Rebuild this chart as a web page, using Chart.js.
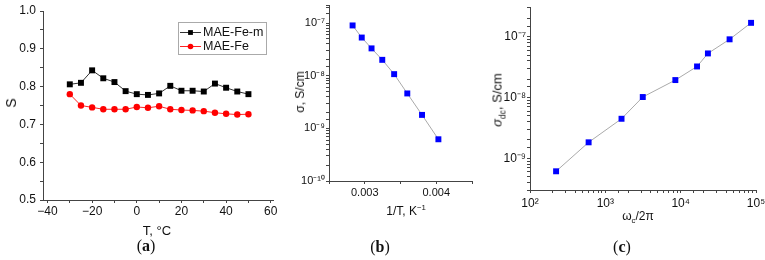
<!DOCTYPE html>
<html>
<head>
<meta charset="utf-8">
<script src="https://cdn.jsdelivr.net/npm/chart.js@4"></script>
<style>
  body { margin: 0; background: #fff; }
  #wrap { position: relative; width: 765px; height: 260px; overflow: hidden; font-family: "Liberation Sans", Arial, sans-serif; color: #111; }
  #wrap canvas { position: absolute; left: 0; top: 0; }
  .lbl { position: absolute; transform: translate(-50%, -50%); white-space: nowrap; }
  .rot { transform: translate(-50%, -50%) rotate(-90deg); }
  .cap { font-family: "Liberation Serif", "Times New Roman", serif; font-size: 16px; }
  .cap b { font-weight: bold; }
  sup, sub { font-size: 65%; line-height: 0; }
</style>
</head>
<body>
<div id="wrap">
  <canvas id="chartA" width="765" height="260"></canvas>
  <canvas id="chartB" width="765" height="260"></canvas>
  <canvas id="chartC" width="765" height="260"></canvas>

  <div class="lbl rot" style="left:11px; top:103px; font-size:14px;">S</div>
  <div class="lbl" style="left:157px; top:230px; font-size:13px;">T, °C</div>
  <div class="lbl cap" style="left:146px; top:246px;">(<b>a</b>)</div>

  <div class="lbl rot" style="left:300px; top:92px; font-size:12px;">σ, S/cm</div>
  <div class="lbl" style="left:406px; top:211px; font-size:12px;">1/T, K<sup>−1</sup></div>
  <div class="lbl cap" style="left:380px; top:247px;">(<b>b</b>)</div>

  <div class="lbl rot" style="left:497px; top:100px; font-size:13px;"><i>σ</i><sub>dc</sub>, S/cm</div>
  <div class="lbl" style="left:638px; top:216px; font-size:12px;">ω<sub>c</sub>/2π</div>
  <div class="lbl cap" style="left:622px; top:247px;">(<b>c</b>)</div>
</div>
<script>
// Panel (a): S vs temperature
const tempA = [-30, -25, -20, -15, -10, -5, 0, 5, 10, 15, 20, 25, 30, 35, 40, 45, 50];
const sMaeFeM = [0.806, 0.810, 0.843, 0.822, 0.812, 0.788, 0.780, 0.778, 0.782, 0.802, 0.789, 0.789, 0.787, 0.808, 0.797, 0.787, 0.780];
const sMaeFe = [0.780, 0.750, 0.745, 0.740, 0.740, 0.740, 0.746, 0.744, 0.748, 0.740, 0.738, 0.737, 0.735, 0.731, 0.728, 0.726, 0.727];
const seriesNames = ['MAE-Fe-m', 'MAE-Fe'];

// Panel (b): sigma vs 1/T
const invT = [0.002830, 0.002958, 0.003095, 0.003245, 0.003411, 0.003595, 0.003801, 0.004030];
const sigmaB = [9.0e-8, 5.3e-8, 3.3e-8, 2.0e-8, 1.07e-8, 4.6e-9, 1.8e-9, 6.2e-10];

// Panel (c): sigma_dc vs omega_c/2pi
const freqC = [222, 600, 1640, 3140, 8500, 16500, 23000, 44600, 86000];
const sigmaDc = [6.1e-10, 1.83e-9, 4.47e-9, 1.02e-8, 1.94e-8, 3.25e-8, 5.33e-8, 9.1e-8, 1.7e-7];

const axisColor = '#444';
const supMap = { '-': '⁻', '0': '⁰', '1': '¹', '2': '²', '3': '³', '4': '⁴', '5': '⁵', '6': '⁶', '7': '⁷', '8': '⁸', '9': '⁹' };
const powLabel = v => {
  const e = Math.log10(v);
  if (Math.abs(e - Math.round(e)) > 1e-6) return '';
  return '10' + String(Math.round(e)).split('').map(c => supMap[c]).join('');
};
const toXY = (xs, ys) => xs.map((x, i) => ({ x, y: ys[i] }));

// force box sizes so the plot areas land where the reference has them
const fixBox = (w, h) => scale => {
  if (w) scale.width = w;
  if (h) scale.height = h;
  scale.paddingTop = scale.paddingBottom = scale.paddingLeft = scale.paddingRight = 0;
};

const axis = (extra, fontSize) => Object.assign({
  grid: { display: true, drawOnChartArea: false, drawTicks: true, tickLength: 3, color: axisColor, tickColor: axisColor },
  border: { display: true, color: axisColor, width: 1 },
  ticks: { color: '#111', font: { family: 'Liberation Sans', size: fontSize }, autoSkip: false, maxRotation: 0, padding: 1 }
}, extra);

const baseOpts = (left, right, top, bottom, scales) => ({
  responsive: false,
  animation: false,
  layout: { padding: { left: 0, top: top, right: 765 - right, bottom: 0 } },
  plugins: { legend: { display: false }, tooltip: { enabled: false } },
  scales: scales(left, 260 - bottom)
});

// legend box drawn from the datasets of chart (a)
const legendBox = {
  id: 'legendBox',
  afterDraw(chart) {
    const ctx = chart.ctx;
    ctx.save();
    ctx.strokeStyle = '#aaa';
    ctx.lineWidth = 1;
    ctx.strokeRect(178.5, 22.5, 88, 32);
    chart.data.datasets.forEach((ds, i) => {
      const y = 32.5 + i * 14;
      ctx.strokeStyle = ds.borderColor;
      ctx.beginPath();
      ctx.moveTo(180, y);
      ctx.lineTo(201, y);
      ctx.stroke();
      ctx.fillStyle = ds.pointBackgroundColor;
      Chart.helpers.drawPoint(ctx, { pointStyle: ds.pointStyle, radius: ds.pointStyle === 'rect' ? 3.4 : 2.8, borderWidth: 0, rotation: 0 }, 190.5, y);
      ctx.fillStyle = '#111';
      ctx.font = '12.5px "Liberation Sans"';
      ctx.textBaseline = 'middle';
      ctx.fillText(ds.label, 203, y);
    });
    ctx.restore();
  }
};

new Chart(document.getElementById('chartA'), {
  type: 'line',
  data: {
    datasets: [
      { label: seriesNames[0], data: toXY(tempA, sMaeFeM), borderColor: '#333', borderWidth: 1,
        pointStyle: 'rect', pointRadius: 4.2, pointBackgroundColor: '#000', pointBorderWidth: 0, tension: 0 },
      { label: seriesNames[1], data: toXY(tempA, sMaeFe), borderColor: '#f22', borderWidth: 1,
        pointStyle: 'circle', pointRadius: 3.2, pointBackgroundColor: '#f00', pointBorderWidth: 0, tension: 0 }
    ]
  },
  options: baseOpts(43, 273, 11, 200, (w, h) => ({
    x: axis({ type: 'linear', min: -42, max: 61, afterFit: fixBox(0, h) }, 12),
    y: axis({ type: 'linear', min: 0.5, max: 1.0, afterFit: fixBox(w, 0) }, 12)
  })),
  plugins: [legendBox]
});
const chartA = Chart.getChart('chartA');
chartA.options.scales.x.ticks.stepSize = 10;
chartA.options.scales.x.ticks.includeBounds = false;
chartA.options.scales.x.ticks.callback = v => (v % 20 === 0 ? String(v).replace('-', '−') : '');
chartA.options.scales.y.ticks.stepSize = 0.05;
chartA.options.scales.y.ticks.padding = 4;
chartA.options.scales.y.ticks.callback = v => (Math.round(v * 100) % 10 === 0 ? v.toFixed(1) : '');
chartA.update();

new Chart(document.getElementById('chartB'), {
  type: 'line',
  data: {
    datasets: [
      { label: 'sigma', data: toXY(invT, sigmaB), borderColor: '#aaa', borderWidth: 1,
        pointStyle: 'rect', pointRadius: 4.2, pointBackgroundColor: '#00f', pointBorderWidth: 0, tension: 0 }
    ]
  },
  options: baseOpts(329, 472, 5, 181, (w, h) => ({
    x: axis({ type: 'linear', min: 0.0025, max: 0.0045, afterFit: fixBox(0, h) }, 11),
    y: axis({ type: 'logarithmic', min: 1e-10, max: 2.2e-7, afterFit: fixBox(w, 0) }, 11)
  }))
});
const chartB = Chart.getChart('chartB');
chartB.options.scales.x.ticks.stepSize = 0.0005;
chartB.options.scales.x.ticks.includeBounds = false;
chartB.options.scales.x.ticks.padding = 2;
chartB.options.scales.x.ticks.callback = v => (Math.abs(v * 1000 - Math.round(v * 1000)) < 1e-6 && v > 0.0026 ? v.toFixed(3) : '');
chartB.options.scales.y.ticks.callback = powLabel;
chartB.update();

new Chart(document.getElementById('chartC'), {
  type: 'line',
  data: {
    datasets: [
      { label: 'sigma_dc', data: toXY(freqC, sigmaDc), borderColor: '#aaa', borderWidth: 1,
        pointStyle: 'rect', pointRadius: 4.2, pointBackgroundColor: '#00f', pointBorderWidth: 0, tension: 0 }
    ]
  },
  options: baseOpts(530, 756, 7, 190, (w, h) => ({
    x: axis({ type: 'logarithmic', min: 100, max: 1e5, afterFit: fixBox(0, h) }, 12),
    y: axis({ type: 'logarithmic', min: 3e-10, max: 3.1e-7, afterFit: fixBox(w, 0) }, 12)
  }))
});
const chartC = Chart.getChart('chartC');
chartC.options.scales.x.ticks.callback = powLabel;
chartC.options.scales.x.ticks.padding = 3;
chartC.options.scales.y.ticks.callback = powLabel;
chartC.update();
</script>
</body>
</html>
